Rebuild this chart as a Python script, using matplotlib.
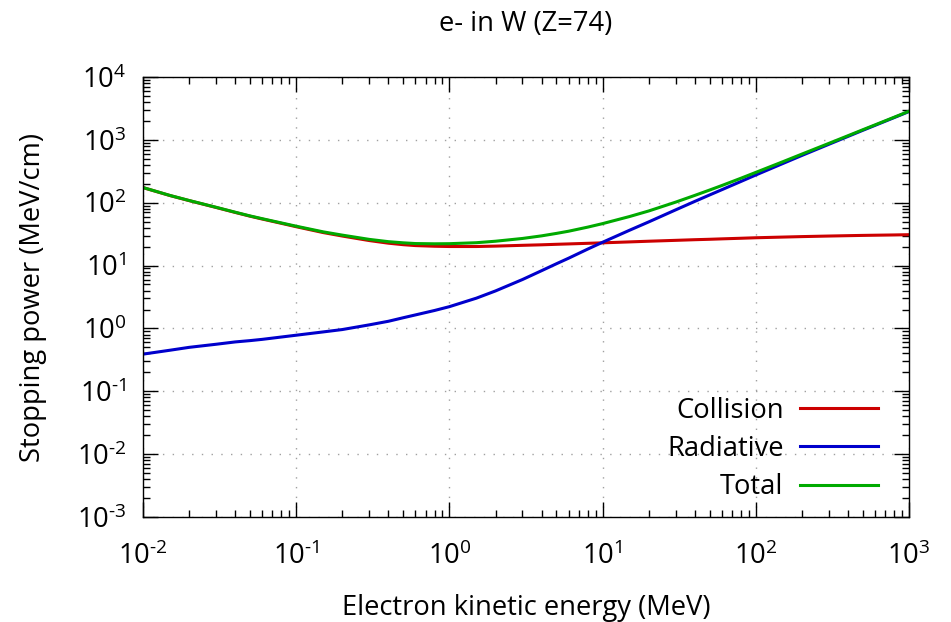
import numpy as np
import matplotlib
matplotlib.use("Agg")
import matplotlib.pyplot as plt
from matplotlib.ticker import LogLocator, FuncFormatter, NullFormatter

energy = [0.01, 0.015, 0.02, 0.03, 0.04, 0.05, 0.06, 0.08, 0.1, 0.15, 0.2, 0.3, 0.4, 0.5,
          0.6, 0.8, 1, 1.5, 2, 3, 4, 5, 6, 8, 10, 15, 20, 30, 40, 50, 60, 80, 100,
          150, 200, 300, 400, 500, 600, 800, 1000]
collision = [174, 130, 108, 84, 70, 61, 55, 47, 41.5, 33.5, 29.5, 25.0, 22.7, 21.5,
             20.8, 20.3, 20.1, 20.1, 20.4, 21.0, 21.4, 21.8, 22.1, 22.6, 23.0, 23.8, 24.4,
             25.2, 25.8, 26.2, 26.6, 27.2, 27.7, 28.4, 28.9, 29.5, 29.9, 30.2, 30.4, 30.7, 31.0]
radiative = [0.39, 0.45, 0.50, 0.56, 0.61, 0.64, 0.67, 0.73, 0.78, 0.88, 0.96, 1.14, 1.30, 1.48,
             1.64, 1.93, 2.22, 3.03, 3.95, 6.0, 8.3, 10.7, 13.1, 18.3, 23.5, 36.5, 49.5,
             77, 105, 133, 161, 218, 276, 420, 565, 850, 1135, 1420, 1700, 2260, 2820]
total = [174.4, 130.5, 108.5, 84.6, 70.6, 61.6, 55.7, 47.7, 42.3, 34.4, 30.5, 26.1, 24.0, 23.0,
         22.4, 22.2, 22.3, 23.1, 24.4, 27.0, 29.7, 32.5, 35.2, 40.9, 46.5, 60.3, 73.9,
         102.2, 130.8, 159.2, 187.6, 245.2, 303.7, 448.4, 593.9, 879.5, 1164.9, 1450.2, 1730.4, 2290.7, 2851.0]

series_labels = ["Collision", "Radiative", "Total"]
series_colors = ["#cc0000", "#0000cc", "#00aa00"]

plt.rcParams['font.family'] = ['Open Sans', 'DejaVu Sans']
plt.rcParams['mathtext.fontset'] = 'custom'
plt.rcParams['mathtext.rm'] = 'Open Sans'
plt.rcParams['mathtext.it'] = 'Open Sans'
plt.rcParams['mathtext.bf'] = 'Open Sans'

FS = 19.7
fig = plt.figure(figsize=(9.51, 6.22), dpi=100)
ax = fig.add_axes([143/951, 1-517/622, (909-143)/951, (517-77)/622])

for ys, lab, col in zip([collision, radiative, total], series_labels, series_colors):
    ax.plot(energy, ys, color=col, lw=2.2, label=lab, solid_joinstyle='round')

ax.set_xscale('log')
ax.set_yscale('log')
ax.set_xlim(1e-2, 1e3)
ax.set_ylim(1e-3, 1e4)

def fmt(v, pos):
    e = int(round(np.log10(v)))
    if e < 0:
        return r"$\mathregular{10^{\text{-}%d}}$" % (-e)
    return r"$\mathregular{10^{%d}}$" % e

for axis in (ax.xaxis, ax.yaxis):
    axis.set_major_locator(LogLocator(base=10, numticks=20))
    axis.set_minor_locator(LogLocator(base=10, subs=np.arange(2, 10), numticks=20))
    axis.set_major_formatter(FuncFormatter(fmt))
    axis.set_minor_formatter(NullFormatter())

ax.tick_params(which='both', direction='in', top=True, right=True, width=1.0, color='black')
ax.tick_params(which='major', length=10.5)
ax.tick_params(which='minor', length=5)
ax.tick_params(axis='x', which='major', labelsize=FS, pad=18)
ax.tick_params(axis='y', which='major', labelsize=FS, pad=12)
for s in ax.spines.values():
    s.set_linewidth(1.0)

ax.grid(which='major', color='#a0a0a0', linestyle=(0, (1, 6)), linewidth=1.0)

ax.set_title("e- in W (Z=74)", fontsize=FS, pad=33)
ax.set_xlabel("Electron kinetic energy (MeV)", fontsize=FS, labelpad=17)
ax.set_ylabel("Stopping power (MeV/cm)", fontsize=FS, labelpad=21)

leg = ax.legend(loc='center right', bbox_to_anchor=(878/951, 1-449/622), bbox_transform=fig.transFigure,
                frameon=False, markerfirst=False, fontsize=FS, handlelength=2.85,
                handletextpad=0.6, labelspacing=0.37, borderpad=0, borderaxespad=0)

fig.savefig("out.png", dpi=100)
